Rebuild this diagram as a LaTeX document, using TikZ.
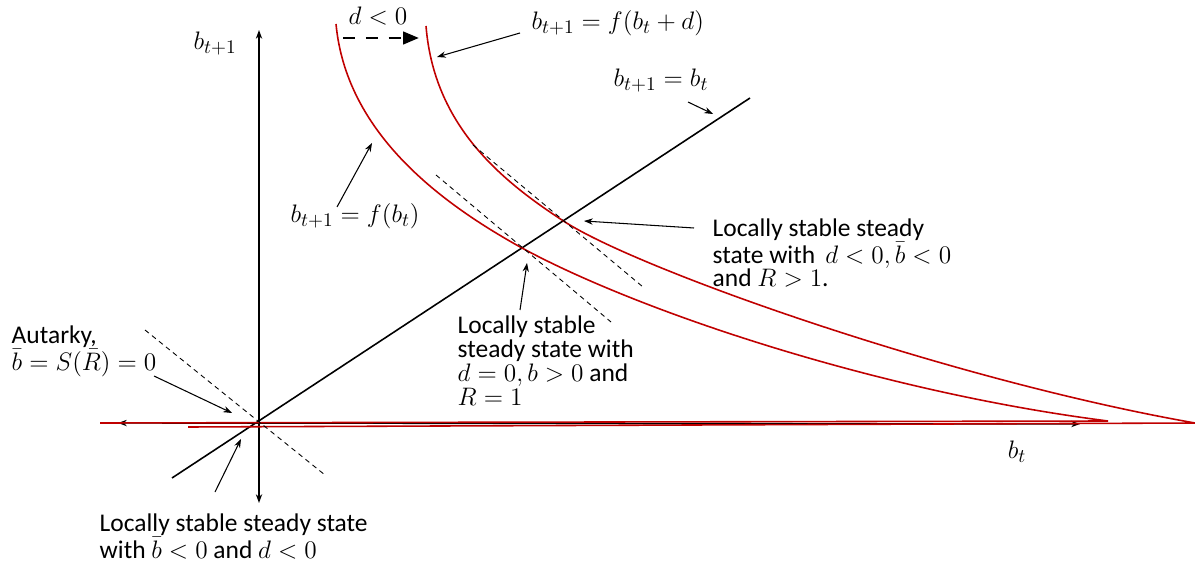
\documentclass[tikz,border=0pt]{standalone}
\usepackage{fontspec}
\setmainfont{Carlito}
\usetikzlibrary{arrows.meta}
\definecolor{curvered}{RGB}{192,0,0}

\begin{document}
\begin{tikzpicture}[x=0.02cm, y=-0.02cm, thick,
        txt/.style = {font=\fontsize{14.5}{13.6}\selectfont, align=left, anchor=base west, inner sep=0pt},
        eq/.style = {font=\fontsize{15.5}{18}\selectfont, anchor=base west, inner sep=0pt},
        fcurve/.style = {draw=curvered, line width=0.9pt},
        tangent/.style = {dash pattern=on 2.8pt off 2.3pt, line width=0.5pt},
        ptr/.style = {-{Stealth[length=5pt,width=3.6pt]}, line width=0.6pt},
        axis/.style = {{Stealth[length=5pt,width=3.6pt]}-{Stealth[length=5pt,width=3.6pt]}, line width=0.8pt}]
    \useasboundingbox (0,0) rectangle (1195,563);
    % axes and 45 degree line
    \coordinate (O) at (259,423);
    \coordinate (xl) at (118,423); \coordinate (xr) at (1080,424);
    \coordinate (yt) at (259,30); \coordinate (yb) at (259,503);
    \coordinate (dl) at (172,478); \coordinate (du) at (750,98);
    \draw[axis] (xl) -- (xr);
    \draw[axis] (yt) -- (yb);
    \draw[line width=0.9pt] (dl) -- (du);
    % the two curves, meeting the 45 degree line at s1 and s2
    \coordinate (s1) at (522,248); \coordinate (s2) at (565,222);
    \draw[fcurve] (336,24) .. controls (346,130) and (435,200) .. (s1)
        .. controls (640,312) and (880,392) .. (1108,421) -- (100,423);
    \draw[fcurve] (426,26) .. controls (434,125) and (500,180) .. (s2)
        .. controls (640,270) and (950,380) .. (1195,423) -- (188,427);
    % tangents at the steady states
    \coordinate (t1a) at (145,330); \coordinate (t1b) at (325,475);
    \coordinate (t2a) at (436,175); \coordinate (t2b) at (611,322);
    \coordinate (t3a) at (473,145); \coordinate (t3b) at (643,287);
    \draw[tangent] (t1a) -- (t1b);
    \draw[tangent] (t2a) -- (t2b);
    \draw[tangent] (t3a) -- (t3b);
    % shift by d
    \coordinate (sa) at (343,38); \coordinate (sb) at (419,38);
    \draw[line width=1.7pt, dash pattern=on 6.8pt off 6.2pt, -{Triangle[length=9pt,width=7pt]}] (sa) -- (sb);
    \node[eq] (dneg) at (348,25) {$d<0$};
    % labels
    \node[eq] (ylab) at (193,50) {$b_{t+1}$};
    \node[eq, anchor=center] (xlab) at (1017,452) {$b_t$};
    \node[eq] (fshift) at (531,30) {$b_{t+1}=f(b_t+d)$};
    \node[eq] (diag) at (613,87) {$b_{t+1}=b_t$};
    \node[eq] (fbase) at (290,223) {$b_{t+1}=f(b_t)$};
    \node[txt] (ssneg) at (712,287) {Locally stable steady\\state with \,$d<0,\bar{b}<0$\\and $R>1$.};
    \node[txt] (sszero) at (457,405) {Locally stable\\steady state with\\$d=0,b>0$ and\\$R=1$};
    \node[txt] (aut) at (11,370) {Autarky,\\$\bar{b}=S(\bar{R})=0$};
    \node[txt] (ssbot) at (99,558) {Locally stable steady state\\with $\bar{b}<0$ and $d<0$};
    % pointers
    \coordinate (p1a) at (337,207); \coordinate (p1b) at (372,143);
    \coordinate (p2a) at (520,33); \coordinate (p2b) at (437,57);
    \coordinate (p3a) at (688,102); \coordinate (p3b) at (713,114);
    \coordinate (p4a) at (694,228); \coordinate (p4b) at (584,221);
    \coordinate (p5a) at (520,310); \coordinate (p5b) at (527,263);
    \coordinate (p6a) at (154,376); \coordinate (p6b) at (232,413);
    \coordinate (p7a) at (215,492); \coordinate (p7b) at (241,439);
    \draw[ptr] (p1a) -- (p1b);
    \draw[ptr] (p2a) -- (p2b);
    \draw[ptr] (p3a) -- (p3b);
    \draw[ptr] (p4a) -- (p4b);
    \draw[ptr] (p5a) -- (p5b);
    \draw[ptr] (p6a) -- (p6b);
    \draw[ptr] (p7a) -- (p7b);
\end{tikzpicture}
\end{document}
